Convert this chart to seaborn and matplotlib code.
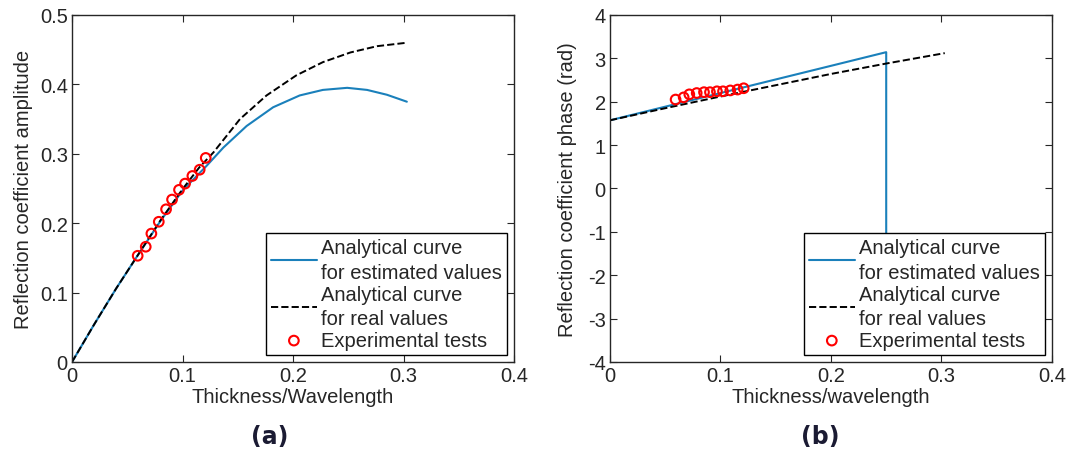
import numpy as np
import seaborn as sns
import matplotlib
matplotlib.use("Agg")
import matplotlib.pyplot as plt

# values
amp_x_est = [0, 0.02, 0.04, 0.06, 0.08, 0.10, 0.122, 0.137, 0.158, 0.182,
             0.206, 0.227, 0.249, 0.267, 0.285, 0.303]
amp_est = [0, 0.054, 0.106, 0.155, 0.203, 0.247, 0.283, 0.309, 0.340, 0.367,
           0.384, 0.392, 0.395, 0.392, 0.385, 0.375]
amp_x_real = [0, 0.02, 0.04, 0.06, 0.08, 0.10, 0.115, 0.128, 0.152, 0.176,
              0.203, 0.227, 0.252, 0.276, 0.303]
amp_real = [0, 0.054, 0.106, 0.155, 0.204, 0.249, 0.280, 0.302, 0.350, 0.384,
            0.413, 0.432, 0.446, 0.455, 0.460]

phase_x_est = [0, 0.05, 0.10, 0.15, 0.20, 0.25, 0.25, 0.303]
phase_est = [1.571, 1.885, 2.199, 2.513, 2.827, 3.142, -3.142, -2.81]
phase_x_real = [0, 0.05, 0.10, 0.15, 0.20, 0.25, 0.303]
phase_real = [1.571, 1.85, 2.12, 2.38, 2.64, 2.88, 3.12]

exp_x = [0.0594, 0.0667, 0.0718, 0.0785, 0.0851, 0.0905, 0.0968, 0.1023,
         0.1089, 0.1155, 0.121]
exp_amp = [0.153, 0.166, 0.185, 0.202, 0.220, 0.234, 0.248, 0.257, 0.268,
           0.277, 0.294]
exp_phase = [2.05, 2.10, 2.17, 2.20, 2.22, 2.22, 2.24, 2.24, 2.26, 2.28, 2.31]

x_ticks = [0, 0.1, 0.2, 0.3, 0.4]
x_ticklabels = ['0', '0.1', '0.2', '0.3', '0.4']
amp_ticks = [0, 0.1, 0.2, 0.3, 0.4, 0.5]
amp_ticklabels = ['0', '0.1', '0.2', '0.3', '0.4', '0.5']
phase_ticks = [-4, -3, -2, -1, 0, 1, 2, 3, 4]
phase_ticklabels = ['-4', '-3', '-2', '-1', '0', '1', '2', '3', '4']

labels = ['Analytical curve\nfor estimated values',
          'Analytical curve\nfor real values',
          'Experimental tests']

sns.set_style('ticks')
plt.rcParams['font.family'] = ['Liberation Sans', 'DejaVu Sans']

blue = '#1a80bb'
fs = 14.5

fig = plt.figure(figsize=(10.72, 4.52), dpi=100)
ax1 = fig.add_axes([0.0672, 0.197, 0.4123, 0.7677])
ax2 = fig.add_axes([0.569, 0.197, 0.4123, 0.7677])


def draw(ax, xe, ye, xr, yr, ey):
    sns.lineplot(x=xe, y=ye, ax=ax, color=blue, lw=1.5, sort=False,
                 estimator=None, label=labels[0])
    sns.lineplot(x=xr, y=yr, ax=ax, color='black', lw=1.4, ls='--',
                 sort=False, estimator=None, label=labels[1])
    sns.scatterplot(x=exp_x, y=ey, ax=ax, marker='o', s=48,
                    facecolors='none', edgecolor='red', linewidth=1.5,
                    label=labels[2], zorder=3)
    ax.set_xlim(0, 0.4)
    ax.set_xticks(x_ticks)
    ax.set_xticklabels(x_ticklabels)
    ax.tick_params(direction='in', top=True, right=True, length=5,
                   labelsize=fs, pad=3)
    for s in ax.spines.values():
        s.set_linewidth(1.0)
        s.set_visible(True)
    leg = ax.legend(loc='lower right', frameon=True, fancybox=False,
                    edgecolor='black', framealpha=1, fontsize=14.5,
                    handlelength=2.3, handletextpad=0.2, labelspacing=0.15,
                    borderpad=0.25, borderaxespad=0.35)
    leg.get_frame().set_linewidth(1.0)
    for t in leg.get_texts():
        t.set_linespacing(1.35)


draw(ax1, amp_x_est, amp_est, amp_x_real, amp_real, exp_amp)
ax1.set_ylim(0, 0.5)
ax1.set_yticks(amp_ticks)
ax1.set_yticklabels(amp_ticklabels)
ax1.set_xlabel('Thickness/Wavelength', fontsize=fs, labelpad=1)
ax1.set_ylabel('Reflection coefficient amplitude', fontsize=fs, labelpad=5)

draw(ax2, phase_x_est, phase_est, phase_x_real, phase_real, exp_phase)
ax2.set_ylim(-4, 4)
ax2.set_yticks(phase_ticks)
ax2.set_yticklabels(phase_ticklabels)
ax2.set_xlabel('Thickness/wavelength', fontsize=fs, labelpad=1)
ax2.set_ylabel('Reflection coefficient phase (rad)', fontsize=fs, labelpad=8)

fig.text(270 / 1072, 1 - 437 / 452, '(a)', ha='center', va='center',
         fontsize=17, fontweight='bold', color='#1b1b33', family='DejaVu Sans')
fig.text(820 / 1072, 1 - 437 / 452, '(b)', ha='center', va='center',
         fontsize=17, fontweight='bold', color='#1b1b33', family='DejaVu Sans')

fig.savefig('out.png', dpi=100)
